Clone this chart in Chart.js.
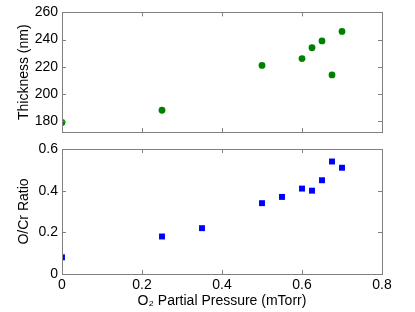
<!DOCTYPE html>
<html>
<head>
<meta charset="utf-8">
<script src="https://cdn.jsdelivr.net/npm/chart.js@4/dist/chart.umd.min.js"></script>
<style>
  body { margin: 0; background: #fff; }
  #wrap { position: relative; width: 415px; height: 312px; }
  canvas { position: absolute; left: 0; top: 0; }
</style>
</head>
<body>
<div id="wrap">
  <canvas id="top" width="415" height="312"></canvas>
  <canvas id="bottom" width="415" height="312"></canvas>
</div>
<script>
// O2 partial pressure (mTorr)
const thickX = [0, 0.25, 0.5, 0.6, 0.625, 0.65, 0.675, 0.7];
const thickY = [179, 188, 221, 226, 234, 239, 214, 246];

const ratioX = [0, 0.25, 0.35, 0.5, 0.55, 0.6, 0.625, 0.65, 0.675, 0.7];
const ratioY = [0.08, 0.18, 0.22, 0.34, 0.37, 0.41, 0.40, 0.45, 0.54, 0.51];

const xTicks = [0, 0.2, 0.4, 0.6, 0.8];
const thickTicks = [180, 200, 220, 240, 260];
const ratioTicks = [0, 0.2, 0.4, 0.6];

const font = { family: '"Liberation Sans", Arial, sans-serif', size: 14 };
Chart.defaults.color = '#000';
Chart.defaults.font = font;

// matlab style box with ticks pointing inward
const boxTicks = {
    id: 'boxTicks',
    afterDraw(chart) {
        const ctx = chart.ctx;
        const a = chart.chartArea;
        const len = 4;
        ctx.save();
        ctx.strokeStyle = '#808080';
        ctx.lineWidth = 1;
        ctx.strokeRect(Math.round(a.left) + 0.5, Math.round(a.top) + 0.5,
            Math.round(a.right - a.left), Math.round(a.bottom - a.top));
        const xs = chart.scales.x;
        const ys = chart.scales.y;
        ctx.beginPath();
        xs.ticks.forEach(t => {
            const px = Math.round(xs.getPixelForValue(t.value)) + 0.5;
            ctx.moveTo(px, a.bottom); ctx.lineTo(px, a.bottom - len);
            ctx.moveTo(px, a.top); ctx.lineTo(px, a.top + len);
        });
        ys.ticks.forEach(t => {
            const py = Math.round(ys.getPixelForValue(t.value)) + 0.5;
            ctx.moveTo(a.left, py); ctx.lineTo(a.left + len, py);
            ctx.moveTo(a.right, py); ctx.lineTo(a.right - len, py);
        });
        ctx.stroke();
        ctx.restore();
    }
};

function toPoints(xs, ys) {
    return xs.map((x, i) => ({x: x, y: ys[i]}));
}

function makeChart(id, cfg) {
    return new Chart(document.getElementById(id), {
        type: 'scatter',
        data: {
            datasets: [{
                data: toPoints(cfg.xs, cfg.ys),
                backgroundColor: cfg.color,
                borderColor: cfg.color,
                borderWidth: 0,
                pointStyle: cfg.pointStyle,
                pointRadius: cfg.radius
            }]
        },
        options: {
            responsive: false,
            animation: false,
            layout: { padding: cfg.padding },
            plugins: { legend: { display: false }, tooltip: { enabled: false } },
            scales: {
                x: {
                    type: 'linear',
                    min: 0,
                    max: 0.8,
                    afterBuildTicks: s => { s.ticks = xTicks.map(v => ({value: v})); },
                    afterFit: s => { s.height = cfg.xHeight; },
                    grid: { display: false, drawTicks: false },
                    border: { display: false },
                    ticks: { display: cfg.xLabels, padding: 3, maxRotation: 0 },
                    title: {
                        display: cfg.xLabels,
                        text: 'O₂ Partial Pressure (mTorr)',
                        padding: { top: 0, bottom: 2 }
                    }
                },
                y: {
                    min: cfg.yMin,
                    max: cfg.yMax,
                    afterBuildTicks: s => { s.ticks = cfg.yTicks.map(v => ({value: v})); },
                    afterFit: s => { s.width = 62; },
                    grid: { display: false, drawTicks: false },
                    border: { display: false },
                    ticks: { padding: 4 },
                    title: {
                        display: true,
                        text: cfg.yTitle,
                        padding: { top: 16, bottom: 0 }
                    }
                }
            }
        },
        plugins: [boxTicks]
    });
}

makeChart('top', {
    xs: thickX, ys: thickY,
    color: '#008000', pointStyle: 'circle', radius: 3.4,
    padding: { left: 0, right: 33, top: 9, bottom: 0 },
    xHeight: 180, xLabels: false,
    yMin: 172, yMax: 260, yTicks: thickTicks,
    yTitle: 'Thickness (nm)'
});

makeChart('bottom', {
    xs: ratioX, ys: ratioY,
    color: '#0000ff', pointStyle: 'rect', radius: 4.2,
    padding: { left: 0, right: 33, top: 149, bottom: 0 },
    xHeight: 38, xLabels: true,
    yMin: 0, yMax: 0.6, yTicks: ratioTicks,
    yTitle: 'O/Cr Ratio'
});
</script>
</body>
</html>
